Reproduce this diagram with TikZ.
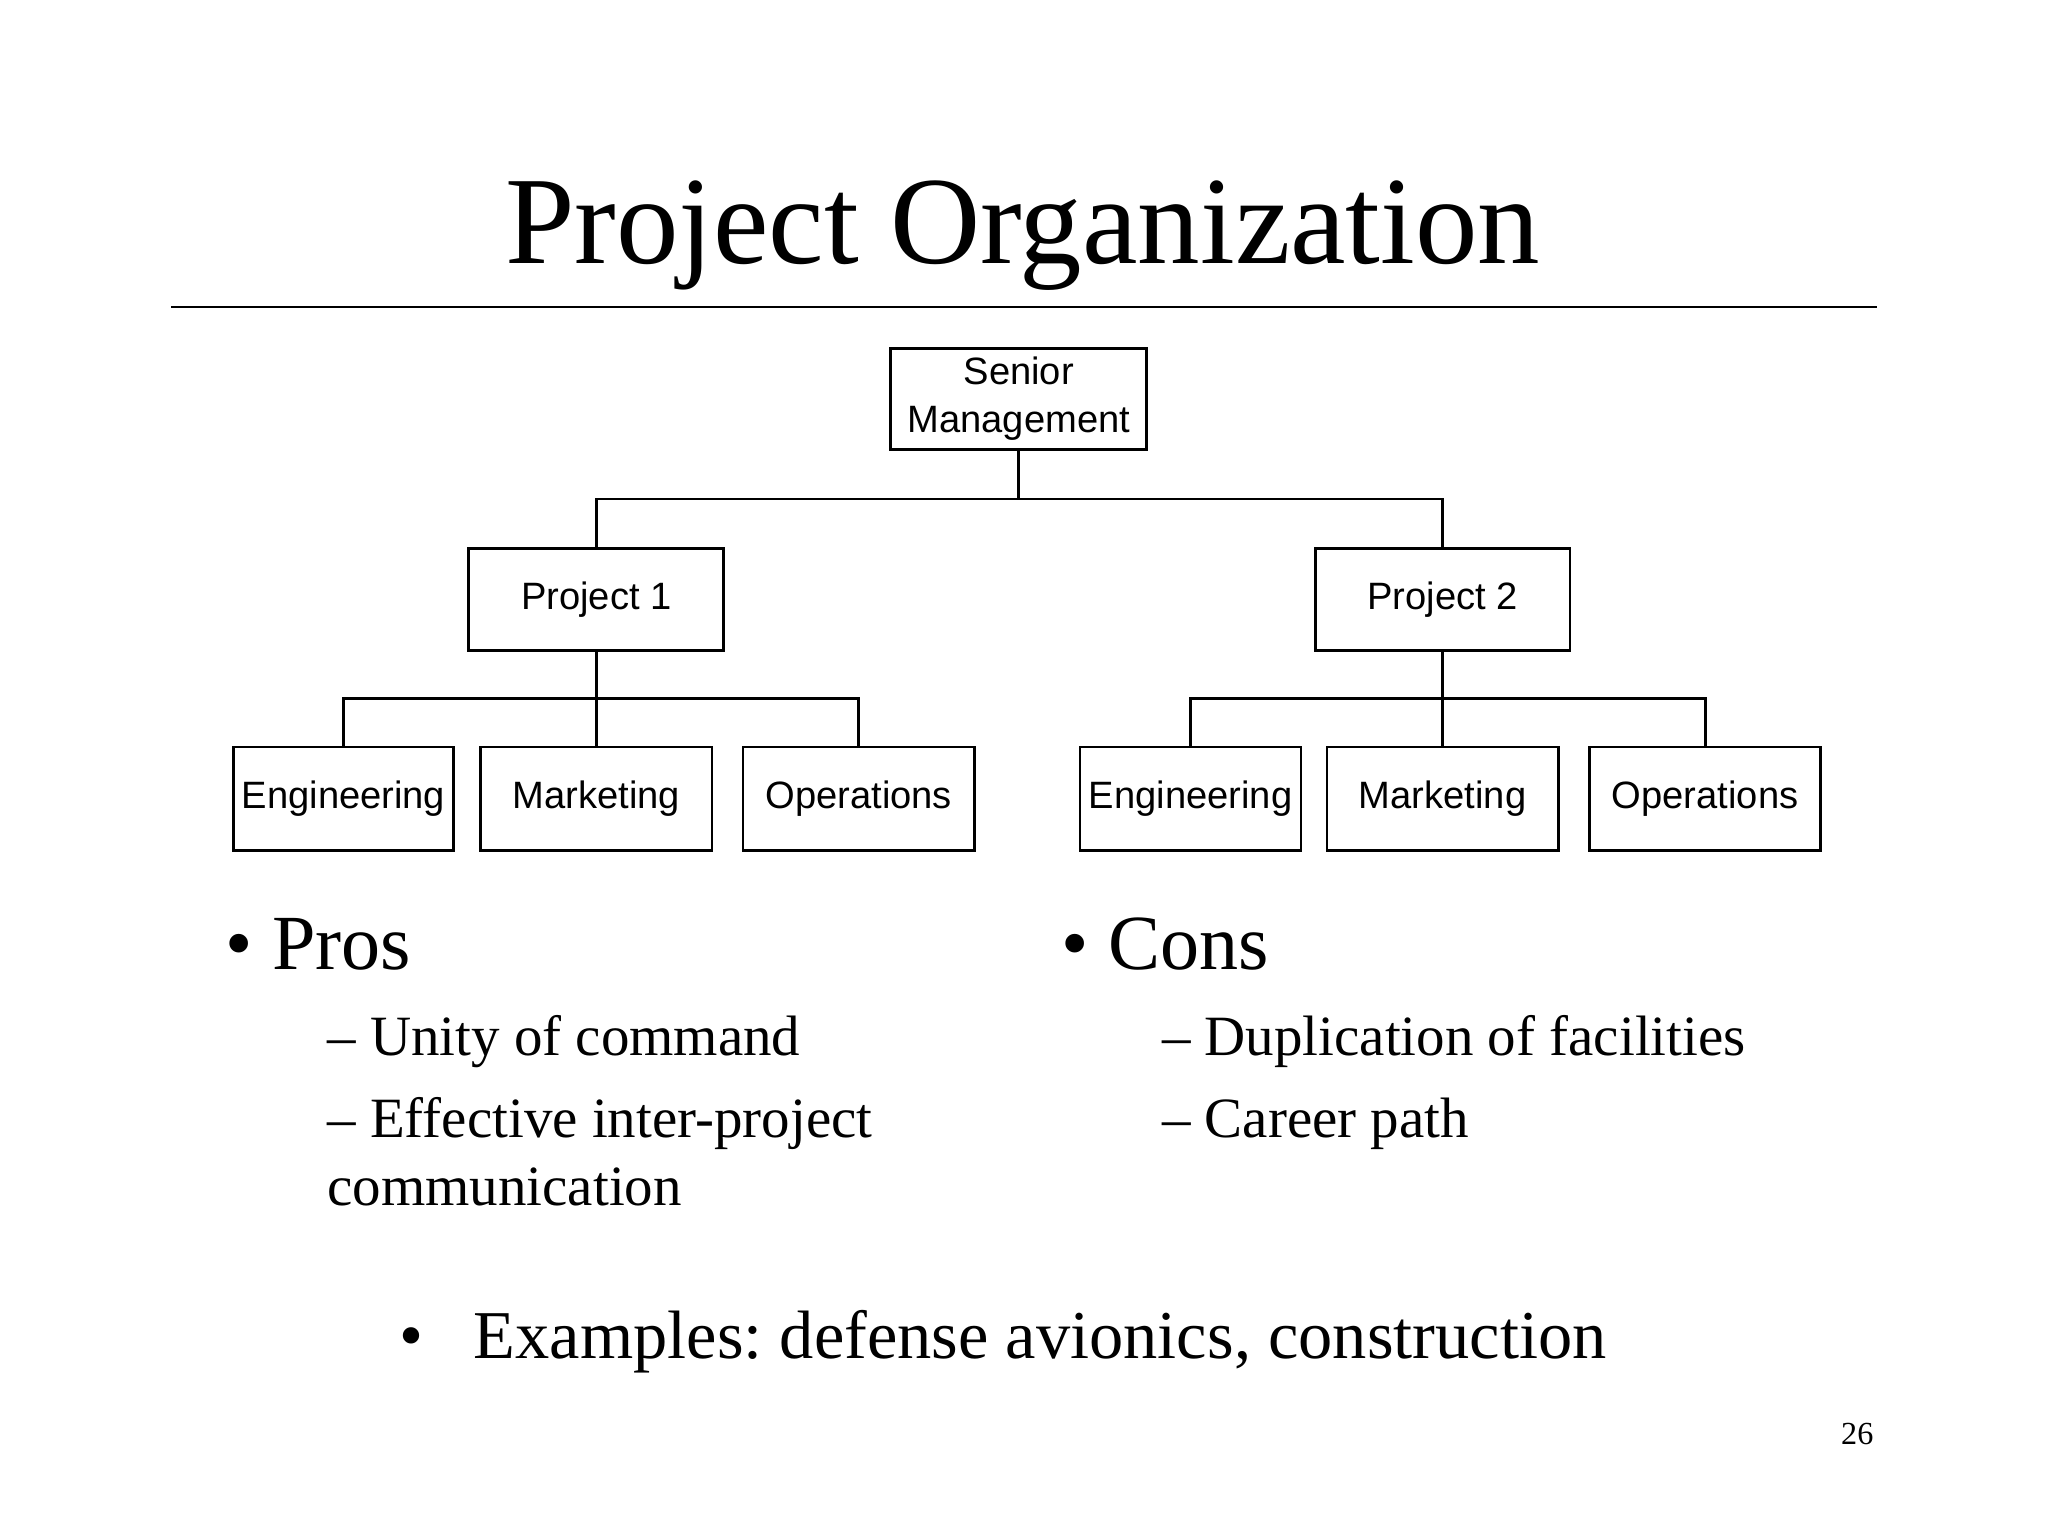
\documentclass[tikz,border=0pt]{standalone}
\usepackage{fontspec}
\setmainfont{Liberation Serif}
\newfontfamily\boxfont{Liberation Sans}
\frenchspacing
\begin{document}
\begin{tikzpicture}[x=0.01cm,y=-0.01cm,
  ln/.style={line width=0.6pt},
  big/.style={anchor=base west,inner sep=0pt,font=\fontsize{17}{20}\selectfont},
  sub/.style={anchor=base west,inner sep=0pt,font=\fontsize{12.4}{15}\selectfont},
  pb/.style={draw,line width=0.6pt,minimum width=1.95cm,minimum height=0.78cm,inner sep=0pt,font=\boxfont\fontsize{8.3}{10}\selectfont},
  db/.style={draw,line width=0.6pt,minimum height=0.79cm,inner sep=0pt,font=\boxfont\fontsize{8.3}{10}\selectfont}]
\useasboundingbox (0,0) rectangle (1568,1176);
\node[anchor=base,inner sep=0pt,font=\fontsize{27.2}{32}\selectfont] (title) at (783,202) {Project Organization};
\coordinate (l1) at (131,235); \coordinate (l2) at (1437,235);
\draw[ln] (l1) -- (l2);
\node[draw,line width=0.6pt,minimum width=1.96cm,minimum height=0.77cm,inner sep=0pt,font=\boxfont\fontsize{8.3}{10.5}\selectfont,align=center] (sm) at (780,305.5) {Senior\\Management};
\node[pb] (p1) at (456.5,459) {Project 1};
\node[pb] (p2) at (1104.5,459) {Project 2};
\node[db,minimum width=1.68cm] (e1) at (263,611.5) {Engineering};
\node[db,minimum width=1.77cm] (m1) at (456.5,611.5) {Marketing};
\node[db,minimum width=1.77cm] (o1) at (657.5,611.5) {Operations};
\node[db,minimum width=1.69cm] (e2) at (911.5,611.5) {Engineering};
\node[db,minimum width=1.77cm] (m2) at (1104.5,611.5) {Marketing};
\node[db,minimum width=1.77cm] (o2) at (1305.5,611.5) {Operations};
\draw[ln] (sm.south) -- (780,382) -| (p1.north);
\draw[ln] (780,382) -| (p2.north);
\draw[ln] (p1.south) -- (m1.north);
\draw[ln] (e1.north) |- (456.5,535) -| (o1.north);
\draw[ln] (p2.south) -- (m2.north);
\draw[ln] (e2.north) |- (1104.5,535) -| (o2.north);
\node[big] (pros) at (172,742) {\textbullet\ Pros};
\node[sub] (pa) at (250,808) {\textendash\ Unity of command};
\node[sub] (pb2) at (250,871) {\textendash\ Effective inter-project};
\node[sub] (pc) at (250,923) {communication};
\node[big] (cons) at (812,742) {\textbullet\ Cons};
\node[sub] (ca) at (889,808) {\textendash\ Duplication of facilities};
\node[sub] (cb) at (889,871) {\textendash\ Career path};
\node[big,font=\fontsize{14.9}{18}\selectfont] (exb) at (305,1040) {\textbullet};
\node[big,font=\fontsize{14.9}{18}\selectfont] (ex) at (362,1040) {Examples: defense avionics, construction};
\node[anchor=base east,inner sep=0pt,font=\fontsize{7}{8}\selectfont] (pg) at (1435,1106) {26};
\end{tikzpicture}
\end{document}
